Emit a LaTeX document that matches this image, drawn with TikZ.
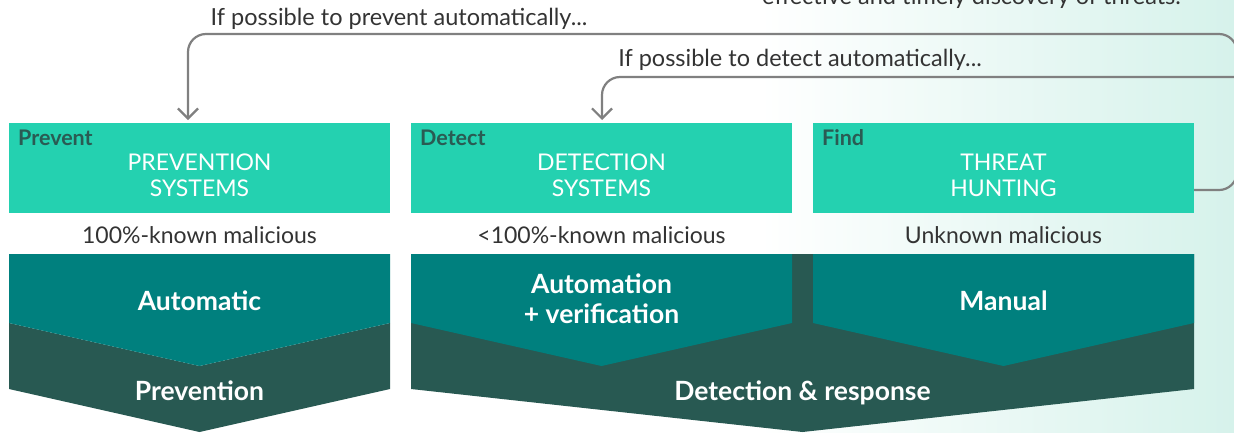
\documentclass[tikz,border=0pt]{standalone}
\usepackage{fontspec}
\setmainfont{Lato}
\usetikzlibrary{arrows.meta}
\definecolor{topgreen}{HTML}{24D1B0}
\definecolor{tealc}{HTML}{00807E}
\definecolor{darkg}{HTML}{285952}
\definecolor{labelc}{HTML}{2A5B53}
\definecolor{txtgray}{HTML}{333333}
\definecolor{linegray}{HTML}{808080}
\definecolor{mint}{HTML}{D6F2EB}
\tikzset{
  topbox/.style={fill=topgreen, minimum width=381pt, minimum height=90pt, inner sep=0pt, outer sep=0pt},
  tag/.style={anchor=base west, inner sep=0pt, text=labelc, font=\fontsize{21.5}{21.5}\selectfont\bfseries},
  title/.style={anchor=base, inner sep=0pt, text=white, font=\fontsize{23}{23}\selectfont},
  known/.style={anchor=base, inner sep=0pt, text=txtgray, font=\fontsize{23}{23}\selectfont},
  chev/.style={anchor=base, inner sep=0pt, text=white, font=\fontsize{26.5}{26.5}\selectfont\bfseries},
  note/.style={anchor=base, inner sep=0pt, text=txtgray, font=\fontsize{23.5}{23.5}\selectfont},
  flow/.style={draw=linegray, line width=2.2pt, rounded corners=18pt, -{Straight Barb[length=10pt,width=20pt]}},
}
\begin{document}
\begin{tikzpicture}[x=1pt,y=-1pt]
\useasboundingbox (0,0) rectangle (1234,432);
\clip (0,0) rectangle (1234,432);
\fill[white] (0,0) rectangle (1234,432);
\shade[left color=white, right color=mint] (760,0) rectangle (1234,432);

% clipped text at the top
\node[note, anchor=base west] (topt) at (762,4) {effective and timely discovery of threats.};

% top boxes
\node[topbox] (b1) at (199.5,168) {};
\node[topbox] (b2) at (601.5,168) {};
\node[topbox] (b3) at (1003.5,168) {};

\node[tag] (l1) at (18,145) {Prevent};
\node[tag] (l2) at (420,145) {Detect};
\node[tag] (l3) at (822,145) {Find};

\node[title] (t1a) at (199.5,170) {PREVENTION};
\node[title] (t1b) at (199.5,196) {SYSTEMS};
\node[title] (t2a) at (601.5,170) {DETECTION};
\node[title] (t2b) at (601.5,196) {SYSTEMS};
\node[title] (t3a) at (1003.5,170) {THREAT};
\node[title] (t3b) at (1003.5,196) {HUNTING};

\node[known] (k1) at (199.5,243) {100\%-known malicious};
\node[known] (k2) at (601.5,243) {<100\%-known malicious};
\node[known] (k3) at (1003.5,243) {Unknown malicious};

% chevrons
\fill[darkg] (9,323) -- (199.5,366) -- (390,323) -- (390,389) -- (199.5,432) -- (9,389) -- cycle;
\fill[tealc] (9,254) -- (390,254) -- (390,323) -- (199.5,366) -- (9,323) -- cycle;
\fill[darkg] (411,254) -- (1194,254) -- (1194,389) -- (802.5,432) -- (411,389) -- cycle;
\fill[tealc] (411,254) -- (792,254) -- (792,323) -- (601.5,366) -- (411,323) -- cycle;
\fill[tealc] (813,254) -- (1194,254) -- (1194,323) -- (1003.5,366) -- (813,323) -- cycle;

\node[chev] (c1) at (199.5,310) {Automatic};
\node[chev] (c2a) at (601.5,293) {Automation};
\node[chev] (c2b) at (601.5,323) {+ verification};
\node[chev] (c3) at (1003.5,310) {Manual};
\node[chev] (p1) at (199.5,400) {Prevention};
\node[chev] (p2) at (802.5,400) {Detection \& response};

% feedback arrows
\node[note] (n1) at (399,25) {If possible to prevent automatically...};
\node[note] (n2) at (800,66) {If possible to detect automatically...};
\coordinate (j1) at (1237,34);
\coordinate (j2) at (1237,77);
\draw[flow, shorten >=3pt] ([yshift=-22pt]b3.east) -| (j1) -| ([xshift=-11.5pt]b1.north);
\draw[flow, shorten >=3pt] (j2) -| ([xshift=0.5pt]b2.north);
\end{tikzpicture}
\end{document}
